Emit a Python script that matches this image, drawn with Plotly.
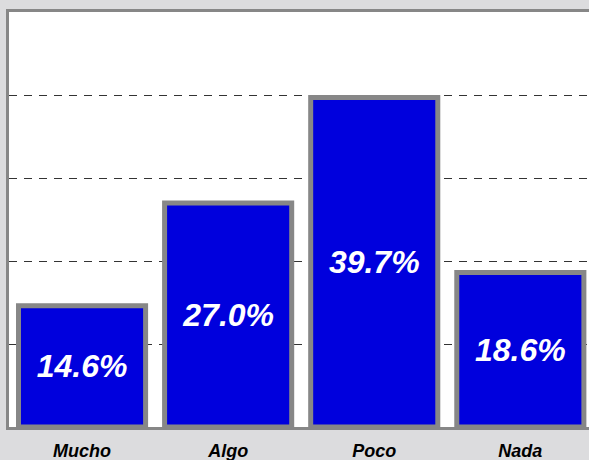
import plotly.graph_objects as go

categories = ["Mucho", "Algo", "Poco", "Nada"]
values = [14.6, 27.0, 39.7, 18.6]
labels = ["14.6%", "27.0%", "39.7%", "18.6%"]

BG = "#DCDCDE"
BORDER = "#878787"
BAR = "#0000DD"

fig = go.Figure(go.Bar(
    x=categories,
    y=values,
    text=labels,
    texttemplate="%{text}",
    textposition="inside",
    insidetextanchor="middle",
    textangle=0,
    textfont=dict(family="Liberation Sans Narrow, Arial Narrow, Liberation Sans, Arial, sans-serif",
                  size=32, color="white", weight="bold", style="italic"),
    marker=dict(color=BAR, line=dict(color=BORDER, width=5)),
    hoverinfo="skip",
))

fig.update_layout(
    width=589, height=460,
    margin=dict(l=9, r=0, t=12, b=33, autoexpand=False),
    paper_bgcolor=BG,
    plot_bgcolor="white",
    bargap=0.13,
    showlegend=False,
)
fig.update_xaxes(
    range=[-0.5, 3.47],
    automargin=False,
    showline=True, linecolor=BORDER, linewidth=3, mirror=True,
    ticks="outside", ticklen=5, tickcolor="rgba(0,0,0,0)",
    tickfont=dict(family="Liberation Sans, Arial, sans-serif", size=18, color="black",
                  weight="bold", style="italic"),
    showgrid=False,
)
fig.update_yaxes(
    range=[0, 50], dtick=10,
    automargin=False,
    showticklabels=False,
    showline=True, linecolor=BORDER, linewidth=3, mirror=False,
    showgrid=True, gridcolor="#333333", gridwidth=1, griddash="8px,7px",
    zeroline=False,
)

fig.write_html(
    "out.html",
    config={"displayModeBar": False},
    post_script="document.body.style.margin='0';document.body.style.overflow='hidden';document.body.style.background='" + BG + "';",
)
